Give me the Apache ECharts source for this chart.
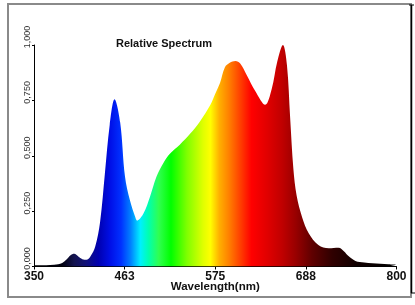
<!DOCTYPE html>
<html>
<head>
<meta charset="utf-8">
<script src="https://cdn.jsdelivr.net/npm/echarts@6/dist/echarts.min.js"></script>
<style>html,body{margin:0;padding:0;background:#fff;}#c{width:415px;height:305px;}</style>
</head>
<body>
<div id="c"></div>
<script>
var wavelengths = [350,360,370,380,385,390,395,400,405,410,415,420,426,432,438,444,450,457,463,469,476,478,486,494,502,511,519,531,544,556,569,575,581,587,593,600,606,614,625,637,645,652,659,664,668,672,676,683,691,703,716,728,735,740,749,760,770,780,790,800];
var intensity  = [0.006,0.006,0.007,0.010,0.016,0.030,0.050,0.057,0.045,0.033,0.030,0.045,0.09,0.20,0.42,0.64,0.755,0.65,0.405,0.30,0.22,0.207,0.24,0.315,0.405,0.47,0.51,0.55,0.60,0.655,0.73,0.78,0.83,0.90,0.92,0.928,0.917,0.865,0.79,0.73,0.80,0.925,1.0,0.91,0.67,0.44,0.32,0.22,0.15,0.097,0.082,0.085,0.068,0.048,0.025,0.018,0.015,0.012,0.010,0.008];
var xTicks = [350,462.5,575,687.5,800];
var yTicks = [0,0.25,0.5,0.75,1];
var titleText = 'Relative Spectrum';
var xName = 'Wavelength(nm)';

var spectrumStops = [
  [350,'#000000'],[385,'#000010'],[400,'#141450'],[415,'#10107a'],[430,'#0000b0'],
  [445,'#0010e8'],[458,'#0030ff'],[470,'#0080ff'],[482,'#00f0ff'],[492,'#00ffb0'],
  [505,'#30ff50'],[520,'#00ff00'],[540,'#80ff00'],[560,'#e0ff00'],[569,'#ffff00'],
  [580,'#ffb000'],[592,'#ff8000'],[606,'#ff4000'],[620,'#ff0000'],[640,'#e00000'],
  [658,'#c00000'],[675,'#980000'],[695,'#600000'],[720,'#300000'],[750,'#100000'],[800,'#000000']
];

var data = wavelengths.map(function(w,i){return [w,intensity[i]];});
var stops = spectrumStops.map(function(s){return {offset:(s[0]-350)/450,color:s[1]};});

var chart = echarts.init(document.getElementById('c'), null, {renderer:'canvas'});
chart.setOption({
  backgroundColor:'#fff',
  animation:false,
  title:{text:titleText,left:111,top:33,textStyle:{fontFamily:'Liberation Sans, Arial',fontWeight:'bold',fontSize:11,color:'#111'}},
  grid:{left:34,right:18.5,top:45,bottom:38.5},
  xAxis:{
    type:'value',min:350,max:800,interval:112.5,
    name:xName,nameLocation:'middle',nameGap:14,nameMoveOverlap:false,
    nameTextStyle:{fontFamily:'Liberation Sans, Arial',fontWeight:'bold',fontSize:11.5,color:'#111',verticalAlign:'top'},
    axisLine:{lineStyle:{color:'#000',width:1}},
    axisTick:{show:true,length:3,inside:false,lineStyle:{color:'#000'},customValues:xTicks},
    axisLabel:{customValues:xTicks,margin:4,fontFamily:'Liberation Sans, Arial',fontWeight:'bold',fontSize:12,color:'#111',
      formatter:function(v){return String(Math.round(v));}},
    splitLine:{show:false}
  },
  yAxis:{
    type:'value',min:0,max:1,interval:0.25,
    axisLine:{show:true,lineStyle:{color:'#000',width:1}},
    axisTick:{show:true,length:2,lineStyle:{color:'#000'}},
    axisLabel:{rotate:90,margin:2,fontFamily:'Liberation Sans, Arial',fontSize:9,color:'#333',padding:[0,0,0,16],
      formatter:function(v){return v.toFixed(3).replace('.',',');}},
    splitLine:{show:false}
  },
  graphic:[
    {type:'rect',shape:{x:8,y:4,width:403,height:293},style:{fill:null,stroke:'#8a8a8a',lineWidth:2},silent:true,z:-1},
    {type:'line',shape:{x1:411.5,y1:5,x2:411.5,y2:293},style:{stroke:'#000',lineWidth:1.5},silent:true},
    {type:'line',shape:{x1:409,y1:5,x2:414,y2:5},style:{stroke:'#000',lineWidth:1},silent:true},
    {type:'line',shape:{x1:411,y1:293,x2:415,y2:293},style:{stroke:'#000',lineWidth:1},silent:true}
  ],
  series:[{
    type:'line',data:data,showSymbol:false,smooth:0.35,
    lineStyle:{width:0},
    areaStyle:{opacity:1,color:new echarts.graphic.LinearGradient(0,0,1,0,stops)}
  }]
});
</script>
</body>
</html>
